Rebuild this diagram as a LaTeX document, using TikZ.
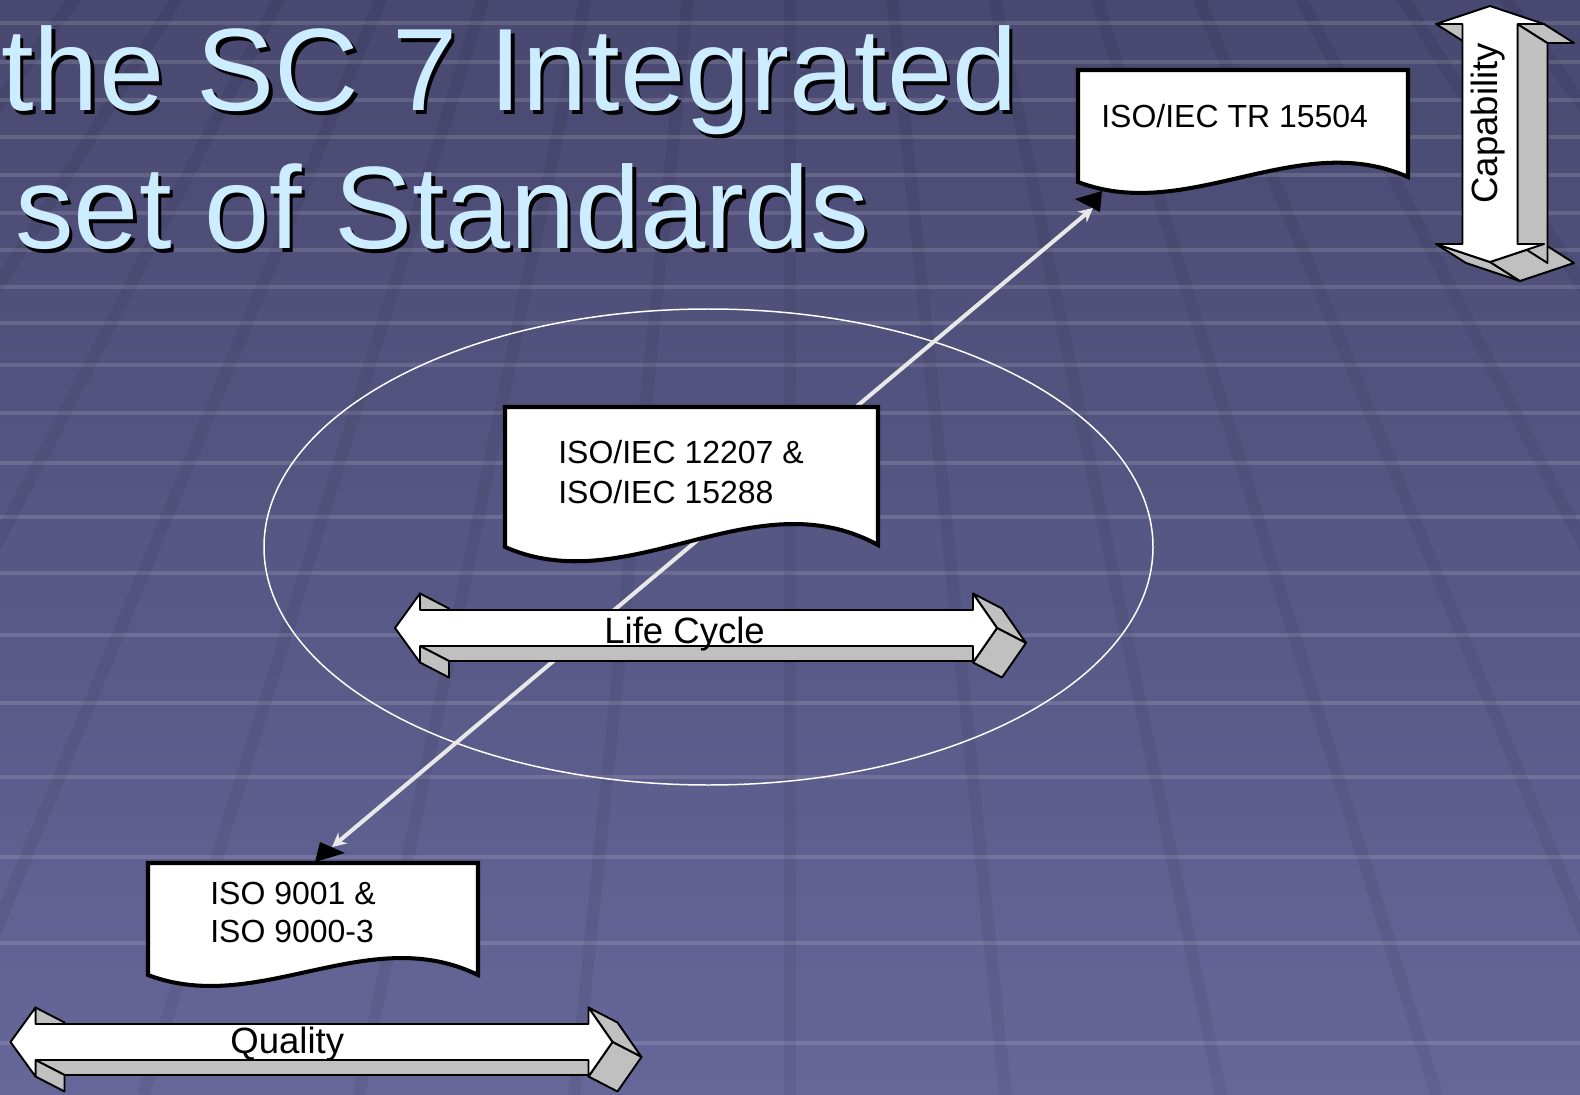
\documentclass[tikz,border=0pt]{standalone}
\usepackage{fontspec}
\setmainfont{Liberation Sans}
\usetikzlibrary{arrows.meta}
\definecolor{bgtop}{RGB}{72,72,112}
\definecolor{bgbot}{RGB}{102,102,153}
\definecolor{titleblue}{RGB}{204,236,255}
\definecolor{slab}{RGB}{192,192,192}
\definecolor{linkgray}{RGB}{232,232,232}

% 3D double block arrow, #1 = left tip, #2 = length
\newcommand{\blockarrow}[2]{%
  \begin{scope}[shift={#1}]
    \filldraw[face] (25,18) -- (#2-24,18) -- (#2+5,33) -- (54,33) -- cycle;
    \filldraw[face] (25,-34.5) -- (25,-18) -- (54,-3) -- (54,-19.5) -- cycle;
    \filldraw[face] (25,18) -- (25,34.5) -- (54,49.5) -- (54,33) -- cycle;
    \filldraw[face] (#2-24,-34.5) -- (#2,0) -- (#2+29,15) -- (#2+5,-19.5) -- cycle;
    \filldraw[face] (#2,0) -- (#2-24,34.5) -- (#2+5,49.5) -- (#2+29,15) -- cycle;
    \filldraw[front] (0,0) -- (25,-34.5) -- (25,-18) -- (#2-24,-18) -- (#2-24,-34.5) -- (#2,0)
      -- (#2-24,34.5) -- (#2-24,18) -- (25,18) -- (25,34.5) -- cycle;
  \end{scope}}

% document sheet with wavy bottom: x, top, width, left bottom, right bottom, wave depth
\newcommand{\docshape}[6]{%
  \filldraw[doc] (#1,#2) -- (#1+#3,#2) -- (#1+#3,#5)
    .. controls (#1+2*#3/3,#4-54*#6) and (#1+#3/3,#4+42*#6) .. (#1,#4) -- cycle;}

\begin{document}
\begin{tikzpicture}[x=0.02cm,y=-0.02cm,
  stripe/.style={white,opacity=0.13,line width=2.6pt},
  gridline/.style={black,opacity=0.06,line width=7pt},
  title/.style={font=\fontsize{66.7}{80}\selectfont,anchor=base west,inner sep=0pt},
  doc/.style={draw=black,fill=white,line width=2.3pt},
  doctext/.style={anchor=north west,inner sep=0pt,align=left},
  face/.style={draw=black,fill=slab,line width=1.1pt,line join=round},
  front/.style={draw=black,fill=white,line width=1.1pt,line join=round},
  label/.style={font=\fontsize{20.8}{25}\selectfont,anchor=base west,inner sep=0pt},
  link/.style={{Stealth[length=8pt,width=8pt]}-{Stealth[length=8pt,width=8pt]},draw=linkgray,line width=2.3pt},
  tip/.style={fill=black}]
\useasboundingbox (0,0) rectangle (1580,1095);
\clip (0,0) rectangle (1580,1095);

% background floor
\shade[top color=bgtop,bottom color=bgbot] (0,0) rectangle (1580,1095);
\foreach \y in {23,62,100,137,175,213,250,287,323,365,413,463,517,573,635,703,777,857,943,1043}
  \draw[stripe] (0,\y) -- (1580,\y);
\foreach \k in {-8,...,8}
  \draw[gridline] (790,-990) -- ({790+215.6*\k},1095);

% title
\node[title,black] (titleshadowA) at (4.5,114.5) {the SC 7 Integrated};
\node[title,titleblue] (titleA) at (1,111) {the SC 7 Integrated};
\node[title,black] (titleshadowB) at (18.5,252.5) {set of Standards};
\node[title,titleblue] (titleB) at (15,249) {set of Standards};

\draw[white,line width=0.85pt] (708.5,547) ellipse [x radius=444.5,y radius=238];

\coordinate (qtip) at (332,847);
\coordinate (ctip) at (1093,208);
\draw[link] (qtip) -- (ctip);

% documents
\docshape{1078}{70}{330}{182}{177}{1}
\docshape{505}{407}{373}{547}{545}{1.3}
\docshape{148}{863}{330}{975}{975}{1}
\fill[tip] (315,862) -- (320,842) -- (345,853) -- cycle;
\fill[tip] (1075,199) -- (1102,191) -- (1100,212) -- cycle;

\node[doctext,font=\fontsize{18.2}{18}\selectfont,anchor=base west] (tr15504) at (1101,128) {ISO/IEC TR 15504};
\node[doctext,font=\fontsize{18.2}{22.7}\selectfont] (iso12207) at (558,440) {ISO/IEC 12207 \&\\ISO/IEC 15288};
\node[doctext,font=\fontsize{18.2}{21.6}\selectfont] (iso9001) at (210,882) {ISO 9001 \&\\ISO 9000-3};

% block arrows
\blockarrow{(395,628)}{602}
\node[label] (lifecycle) at (604,643) {Life Cycle};
\blockarrow{(10.5,1042)}{602}
\node[label] (quality) at (230,1053) {Quality};

\filldraw[face] (1490,262) -- (1436,244) -- (1466,263) -- (1520,281) -- cycle;
\filldraw[face] (1544,244) -- (1490,262) -- (1520,281) -- (1574,263) -- cycle;
\filldraw[face] (1517.5,24) -- (1517.5,244) -- (1547.5,263) -- (1547.5,43) -- cycle;
\filldraw[face] (1517.5,24) -- (1544,24) -- (1574,43) -- (1547.5,43) -- cycle;
\filldraw[face] (1436,24) -- (1462.5,24) -- (1492.5,43) -- (1466,43) -- cycle;
\filldraw[front] (1490,6) -- (1544,24) -- (1517.5,24) -- (1517.5,244) -- (1544,244) -- (1490,262)
  -- (1436,244) -- (1462.5,244) -- (1462.5,24) -- (1436,24) -- cycle;
\node[label,rotate=90] (capability) at (1497,204) {Capability};
\end{tikzpicture}
\end{document}
